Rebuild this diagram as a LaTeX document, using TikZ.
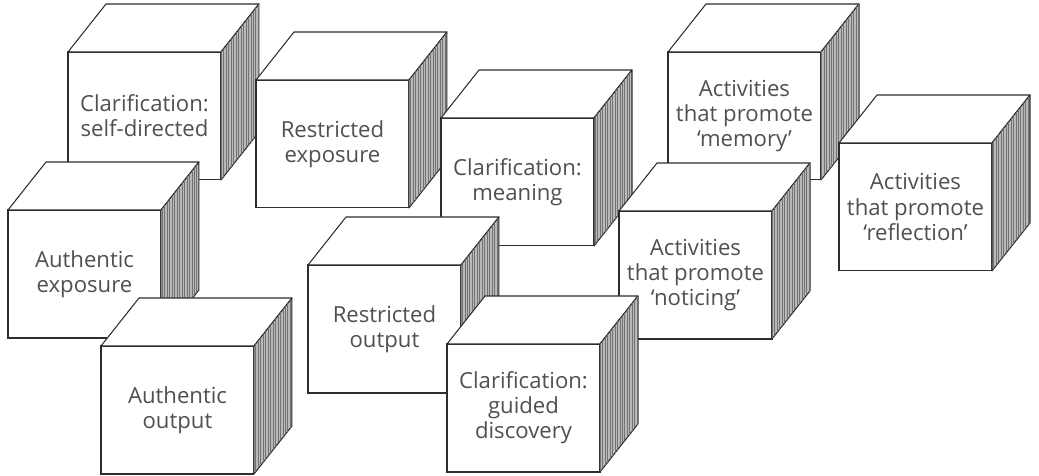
\documentclass[tikz,border=0pt]{standalone}
\usepackage{fontspec}
\setmainfont{Open Sans}
\usetikzlibrary{patterns.meta}
\definecolor{ink}{RGB}{45,45,45}
\definecolor{txt}{RGB}{80,80,80}
\tikzset{
  front/.style={draw=ink, fill=white, line width=0.6pt, minimum width=3.06cm, minimum height=2.56cm, inner sep=0pt, outer sep=0pt, anchor=north west, align=center, text=txt, font=\fontsize{12.6}{14.3}\selectfont},
  topface/.style={draw=ink, fill=white, line width=0.6pt, line join=round},
  sideface/.style={draw=ink, fill=gray!55, line width=0.6pt, line join=round, postaction={pattern={Lines[angle=90,distance=1.4pt,line width=0.4pt]}, pattern color=black!55}}
}
\newcommand{\cube}[4]{%
  \node[front] (#1) at (#2,#3) {#4};
  \draw[topface] (#1.north west) -- ([shift={(38,-48)}]#1.north west) -- ([shift={(38,-48)}]#1.north east) -- (#1.north east) -- cycle;
  \draw[sideface] (#1.north east) -- ([shift={(38,-48)}]#1.north east) -- ([shift={(38,-48)}]#1.south east) -- (#1.south east) -- cycle;
}
\begin{document}
\begin{tikzpicture}[x=0.02cm, y=-0.02cm]
\useasboundingbox (0,0) rectangle (1039,476);
\cube{selfdir}{68}{52}{Clarification:\\self-directed}
\cube{memory}{668}{52}{Activities\\that promote\\`memory'}
\cube{resexp}{256}{80}{Restricted\\exposure}
\cube{meaning}{441}{118}{Clarification:\\meaning}
\cube{reflect}{839}{143}{Activities\\that promote\\`reflection'}
\cube{authexp}{8}{210}{Authentic\\exposure}
\cube{noticing}{619}{211}{Activities\\that promote\\`noticing'}
\cube{resout}{308}{265}{Restricted\\output}
\cube{guided}{447}{344}{Clarification:\\guided\\discovery}
\cube{authout}{101}{346}{Authentic\\output}
\end{tikzpicture}
\end{document}
